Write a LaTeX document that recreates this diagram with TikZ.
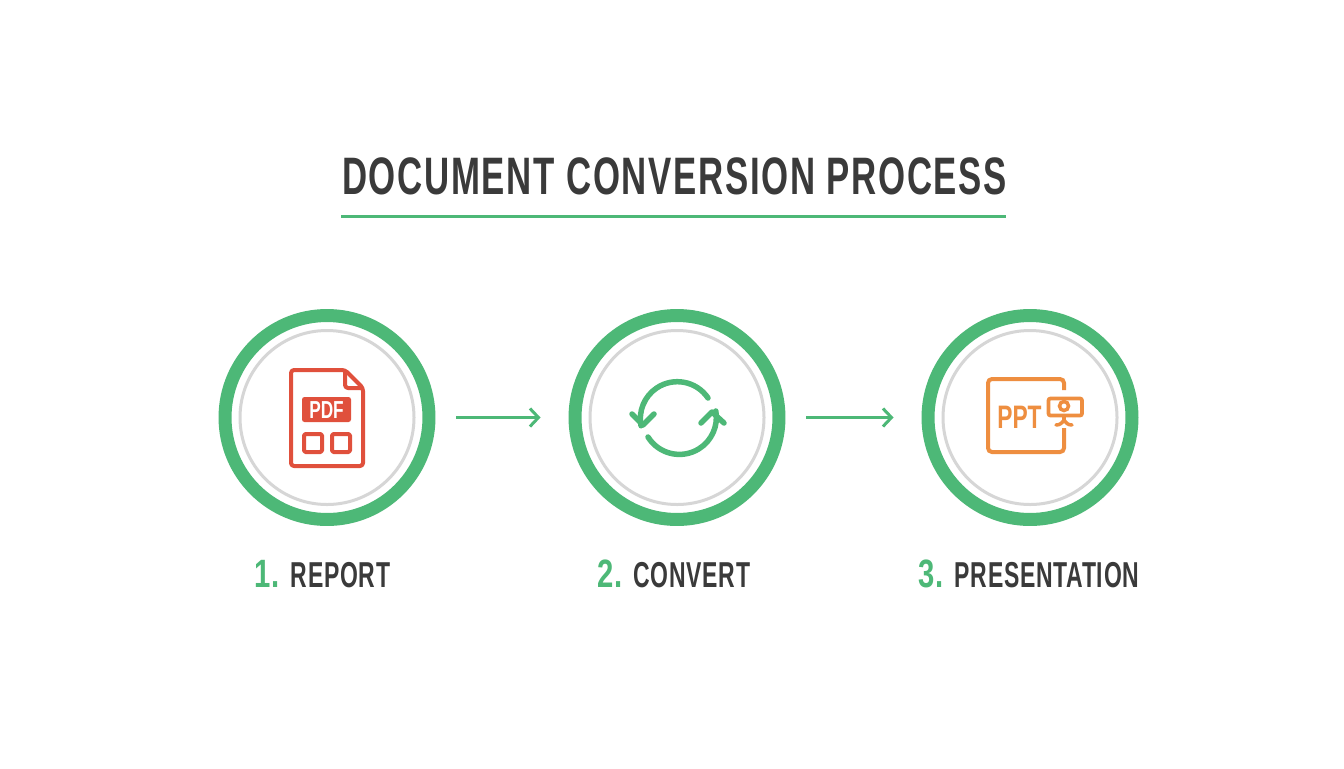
\documentclass[tikz,border=0pt]{standalone}
\usepackage{fontspec}
\usetikzlibrary{arrows.meta}
\newfontfamily\titlefont[FakeStretch=0.66,LetterSpace=3.2]{Liberation Sans Bold}
\newfontfamily\labelfont[FakeStretch=0.638,LetterSpace=2]{Liberation Sans Bold}
\newfontfamily\numfont[FakeStretch=0.74]{Liberation Sans Bold}
\newfontfamily\iconfont[FakeStretch=0.70]{Liberation Sans Bold}
\definecolor{stepgreen}{HTML}{4DB877}
\definecolor{ringgray}{HTML}{D6D6D6}
\definecolor{inkgray}{HTML}{3A3A3A}
\definecolor{pdfred}{HTML}{E0503C}
\definecolor{pptorange}{HTML}{EE8E40}
\tikzset{
  stepring/.style={circle,draw=stepgreen,line width=0.26cm,minimum size=4.08cm,inner sep=0pt},
  innerring/.style={draw=ringgray,line width=0.06cm},
  flowarrow/.style={draw=stepgreen,line width=0.06cm,-{Straight Barb[length=0.17cm,width=0.36cm,line width=0.06cm]},shorten <=0.42cm,shorten >=0.56cm},
  steplabel/.style={font=\labelfont\fontsize{20.5}{24}\selectfont,text=inkgray,inner sep=0pt},
  pdfline/.style={draw=pdfred,line width=0.08cm,rounded corners=0.06cm,line join=round},
  syncline/.style={draw=stepgreen,line width=0.11cm,line cap=round,line join=round},
  pptline/.style={draw=pptorange,line width=0.08cm,rounded corners=0.08cm}
}
\newcommand{\stepnum}[1]{{\numfont\fontsize{22.5}{24}\selectfont\color{stepgreen}#1}\hspace{6.5pt}}
\begin{document}
\begin{tikzpicture}[x=0.02cm,y=-0.02cm]
      \useasboundingbox[fill=white] (0,0) rectangle (1344,768);

      %%%%  Title
      \node[font=\titlefont\fontsize{30}{34}\selectfont,text=inkgray,inner sep=0pt] (title) at (674.5,176) {DOCUMENT CONVERSION PROCESS};
      \draw[stepgreen,line width=0.07cm] (341,216.5) -- (1006,216.5);

      %%%%  Circles
      \node[stepring] (report) at (327,417.5) {};
      \node[stepring] (convert) at (677,417.5) {};
      \node[stepring] (presentation) at (1030,417.5) {};
      \foreach \step in {report,convert,presentation}
       {\draw[innerring] (\step.center) circle (87);};

      \draw[flowarrow] (report) -- (convert);
      \draw[flowarrow] (convert) -- (presentation);

      %%%%  Labels
      \node[steplabel] (reportlabel) at (322.5,574) {\stepnum{1.}REPORT};
      \node[steplabel] (convertlabel) at (674,574) {\stepnum{2.}CONVERT};
      \node[steplabel] (presentationlabel) at (1029,574) {\stepnum{3.}PRESENTATION};

      %%%%  PDF icon
      \draw[pdfline] (345,370) -- (291,370) -- (291,466) -- (363,466) -- (363,388) -- cycle;
      \draw[pdfline] (345,370) -- (345,388) -- (363,388);
      \fill[pdfred,rounded corners=0.05cm] (302,397) rectangle (351,422);
      \node[font=\iconfont\fontsize{14}{16}\selectfont,text=white,inner sep=0pt] (pdftext) at (326.5,410) {PDF};
      \foreach \xa in {304,332}
       {\draw[pdfline,rounded corners=0.03cm] (\xa,434) rectangle (\xa+18,452);};

      %%%%  Sync icon
      \draw[syncline] (708,398) arc (-34:-191:37);
      \draw[syncline] (632,414) -- (643,425) -- (654,414);
      \draw[syncline] (648,437) arc (-212:-370:37);
      \draw[syncline] (701,423) -- (712,412) -- (724,423);

      %%%%  PPT icon
      \draw[pptline] (1064,390) -- (1064,379) -- (988,379) -- (988,452) -- (1064,452) -- (1064,428);
      \node[font=\iconfont\fontsize{18.5}{20}\selectfont,text=pptorange,inner sep=0pt] (ppttext) at (1019.5,417) {PPT};
      \draw[pptline,line width=0.075cm,rounded corners=0.04cm] (1048.5,398.5) rectangle (1082,415.5);
      \draw[pptorange,line width=0.07cm] (1064,406) circle (4.5);
      \draw[pptorange,line width=0.07cm] (1064,415) -- (1064,420);
      \draw[pptorange,line width=0.07cm,line cap=round] (1056,425) .. controls (1060,425) and (1062,423) .. (1064,420) .. controls (1066,423) and (1068,425) .. (1072,425);
\end{tikzpicture}
\end{document}
